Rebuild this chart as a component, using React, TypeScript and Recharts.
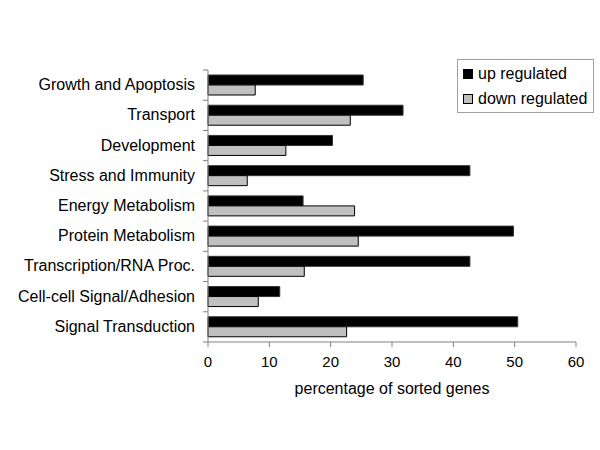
import { BarChart, Bar, XAxis, YAxis } from "recharts";

const categories = [
  "Growth and Apoptosis",
  "Transport",
  "Development",
  "Stress and Immunity",
  "Energy Metabolism",
  "Protein Metabolism",
  "Transcription/RNA Proc.",
  "Cell-cell Signal/Adhesion",
  "Signal Transduction",
];
const upRegulated = [25.3, 31.8, 20.3, 42.7, 15.5, 49.8, 42.7, 11.7, 50.5];
const downRegulated = [7.7, 23.2, 12.7, 6.4, 23.9, 24.5, 15.7, 8.2, 22.6];
const xTicks = [0, 10, 20, 30, 40, 50, 60];

const series = [
  { key: "up", name: "up regulated", fill: "#000", stroke: "#333" },
  { key: "down", name: "down regulated", fill: "#c0c0c0", stroke: "#000" },
];

const data = categories.map((name, i) => ({
  name,
  up: upRegulated[i],
  down: downRegulated[i],
}));

const FONT = "'Liberation Sans', Arial, sans-serif";

const CategoryTick = (props: any) => {
  const { x, y, payload, index } = props;
  const half = payload.offset || 0;
  const axisX = x + 13;
  return (
    <g>
      <line x1={axisX} x2={axisX - 5} y1={y - half} y2={y - half} stroke="#808080" />
      {index === categories.length - 1 && (
        <line x1={axisX} x2={axisX - 5} y1={y + half} y2={y + half} stroke="#808080" />
      )}
      <text x={x} y={y} dy={5} textAnchor="end" fontSize={16} fill="#000" fontFamily={FONT}>
        {payload.value}
      </text>
    </g>
  );
};

export default function App() {
  return (
    <div style={{ position: "absolute", left: 0, top: 0, width: 600, height: 450, background: "#fff" }}>
      <BarChart
        width={600}
        height={450}
        data={data}
        layout="vertical"
        margin={{ top: 70, right: 24, bottom: 48, left: 0 }}
        barSize={10}
        barGap={0}
      >
        <XAxis
          type="number"
          domain={[0, 60]}
          ticks={xTicks}
          stroke="#808080"
          tickSize={5}
          tickMargin={9}
          tick={{ fill: "#000", fontSize: 15, fontFamily: FONT }}
          height={60}
          label={{
            value: "percentage of sorted genes",
            position: "insideBottom",
            offset: 8,
            fill: "#000",
            fontSize: 16,
            fontFamily: FONT,
          }}
        />
        <YAxis
          type="category"
          dataKey="name"
          width={208}
          stroke="#808080"
          tickLine={false}
          tickSize={5}
          tickMargin={8}
          tick={<CategoryTick />}
          interval={0}
        />
        {series.map((s) => (
          <Bar
            key={s.key}
            dataKey={s.key}
            name={s.name}
            fill={s.fill}
            stroke={s.stroke}
            isAnimationActive={false}
          />
        ))}
      </BarChart>
      <div
        style={{
          position: "absolute",
          left: 457,
          top: 59,
          width: 130,
          border: "1px solid #a0a0a0",
          background: "#fff",
          padding: "1px 0 1px 5px",
          fontFamily: FONT,
          fontSize: 16,
          lineHeight: "25px",
        }}
      >
        {series.map((s) => (
          <div key={s.key} style={{ display: "flex", alignItems: "center" }}>
            <span
              style={{
                display: "inline-block",
                width: 8,
                height: 8,
                background: s.fill,
                border: "1px solid #000",
                marginRight: 5,
              }}
            />
            {s.name}
          </div>
        ))}
      </div>
    </div>
  );
}
